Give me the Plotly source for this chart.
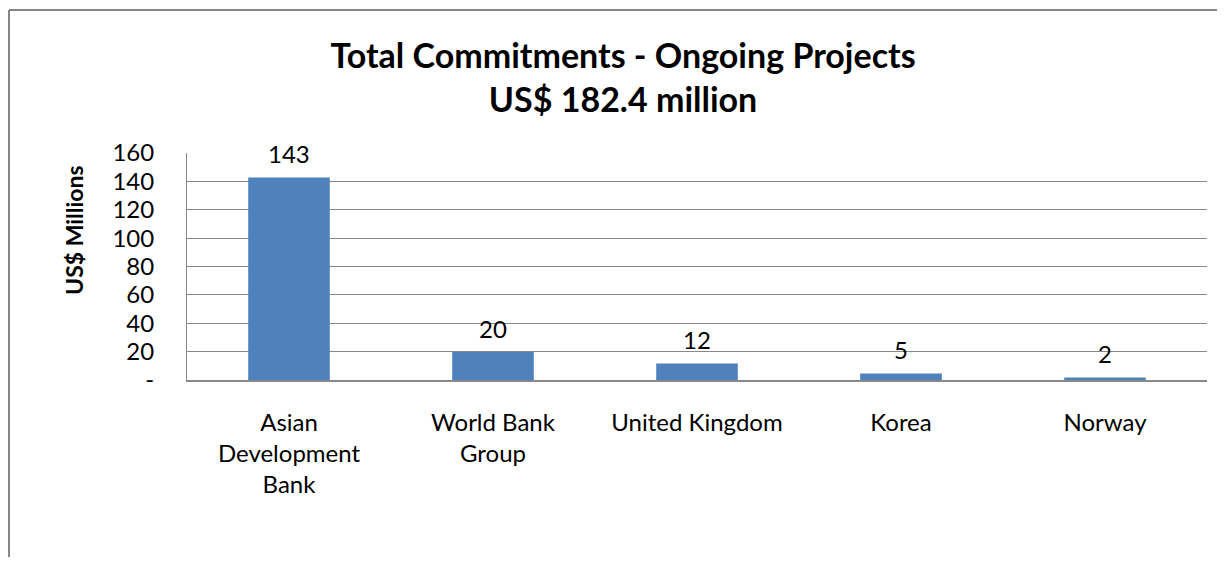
import plotly.graph_objects as go

categories = ["Asian<br>Development<br>Bank", "World Bank<br>Group", "United Kingdom", "Korea", "Norway"]
values = [142.8, 19.7, 11.6, 4.6, 1.7]
value_labels = ["143", "20", "12", "5", "2"]
y_tickvals = [0, 20, 40, 60, 80, 100, 120, 140, 160]
y_ticktext = ["-", "20", "40", "60", "80", "100", "120", "140", "160"]

FONT = "Lato"
GRID = "#888888"

fig = go.Figure()
fig.add_trace(go.Bar(x=categories, y=values, marker=dict(color="#4F81BD", line=dict(width=0)),
                     hoverinfo="skip"))

for c, v, t in zip(categories, values, value_labels):
    fig.add_annotation(x=c, y=v, text=t, showarrow=False, yshift=24, yanchor="middle",
                       font=dict(family=FONT, size=24, color="black"))

fig.add_annotation(xref="paper", yref="paper", x=-0.1108, y=0.661, text="<b>US$ Millions</b>",
                   textangle=-90, showarrow=False, xanchor="center", yanchor="middle",
                   font=dict(family=FONT, size=23, color="black"))

fig.add_shape(type="line", xref="paper", yref="paper", x0=-0.1745, x1=1.2, y0=1.63, y1=1.63,
              line=dict(color="#868686", width=2))
fig.add_shape(type="line", xref="paper", yref="paper", x0=-0.1745, x1=-0.1745, y0=1.63, y1=-1.2,
              line=dict(color="#868686", width=2))

fig.update_layout(
    width=1209, height=549,
    margin=dict(l=179, r=10, t=145, b=177),
    paper_bgcolor="white", plot_bgcolor="white",
    bargap=0.6,
    showlegend=False,
    title=dict(text="<b>Total Commitments - Ongoing Projects<br>US$ 182.4 million</b>",
               xref="paper", x=0.4275, xanchor="center", y=0.891, yanchor="middle",
               font=dict(family=FONT, size=34, color="black")),
    font=dict(family=FONT, size=24, color="black"),
)
fig.update_yaxes(range=[0, 160], tickvals=y_tickvals, ticktext=y_ticktext,
                 showgrid=True, gridcolor=GRID, gridwidth=1,
                 showline=True, linecolor=GRID, linewidth=1,
                 ticks="", ticklabelstandoff=27, zeroline=False,
                 tickfont=dict(family=FONT, size=24, color="black"))
fig.update_xaxes(showline=True, linecolor=GRID, linewidth=2, ticks="",
                 ticklabelstandoff=20,
                 tickfont=dict(family=FONT, size=24, color="black"))

fig.write_html("out.html")
